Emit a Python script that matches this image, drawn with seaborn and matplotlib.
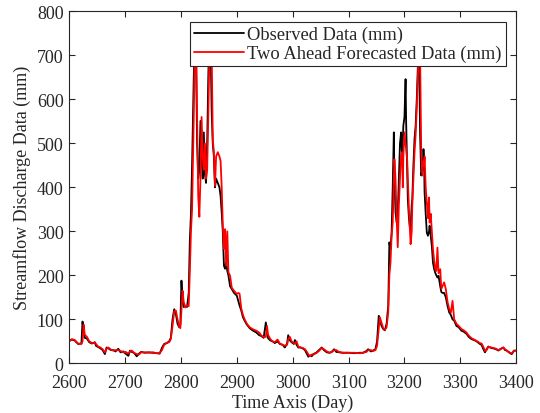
import numpy as np
import pandas as pd
import matplotlib
matplotlib.use("Agg")
import matplotlib.pyplot as plt
import seaborn as sns

# Values (day, observed, two-ahead forecast)
days = [2600, 2605, 2610, 2616, 2622, 2624, 2626, 2628, 2632, 2636, 2641, 2646, 2648, 2652,
        2656, 2660, 2664, 2667, 2670, 2675, 2679, 2683, 2688, 2692, 2697, 2701, 2706, 2709,
        2712, 2716, 2721, 2725, 2729, 2735, 2742, 2750, 2757, 2762, 2766, 2770, 2775, 2779,
        2782, 2785, 2788, 2791, 2794, 2797, 2799, 2801, 2803, 2805, 2808, 2811, 2814, 2816,
        2818, 2820, 2823, 2825, 2827, 2829, 2831, 2833, 2835, 2837, 2839, 2841, 2843, 2845,
        2847, 2849, 2851, 2853, 2855, 2857, 2859, 2861, 2863, 2866, 2869, 2871, 2873, 2875,
        2877, 2879, 2881, 2883, 2885, 2888, 2891, 2895, 2900, 2903, 2905, 2908, 2911, 2914,
        2918, 2923, 2928, 2935, 2940, 2944, 2948, 2952, 2954, 2956, 2960, 2964, 2968, 2973,
        2977, 2982, 2986, 2990, 2992, 2995, 2998, 3002, 3004, 3007, 3010, 3014, 3018, 3022,
        3026, 3028, 3031, 3034, 3037, 3042, 3047, 3052, 3056, 3061, 3066, 3070, 3074, 3078,
        3084, 3090, 3100, 3110, 3120, 3126, 3132, 3135, 3140, 3144, 3148, 3151, 3154, 3156,
        3159, 3162, 3165, 3168, 3171, 3173, 3175, 3177, 3179, 3181, 3182, 3184, 3186, 3188,
        3190, 3192, 3194, 3196, 3197, 3198, 3200, 3202, 3203, 3205, 3206, 3208, 3210, 3211,
        3213, 3214, 3216, 3218, 3220, 3222, 3224, 3226, 3228, 3230, 3232, 3234, 3235, 3236,
        3238, 3240, 3242, 3244, 3245, 3247, 3249, 3251, 3253, 3255, 3257, 3259, 3261, 3264,
        3266, 3268, 3271, 3274, 3277, 3280, 3283, 3286, 3289, 3293, 3297, 3302, 3306, 3311,
        3315, 3320, 3326, 3329, 3335, 3338, 3342, 3344, 3347, 3350, 3355, 3359, 3364, 3368,
        3372, 3377, 3380, 3383, 3389, 3392, 3396, 3400]

observed = [51, 54, 52, 44, 45, 95, 70, 58, 56, 48, 45, 48, 40, 37,
            34, 30, 21, 36, 34, 30, 30, 27, 33, 25, 27, 22, 17, 29,
            26, 24, 16, 22, 26, 24, 25, 24, 23, 22, 35, 44, 46, 50,
            58, 100, 123, 112, 90, 82, 88, 188, 140, 128, 130, 128, 160, 280,
            340, 450, 650, 750, 700, 500, 420, 440, 551, 470, 420, 525, 430, 410,
            500, 650, 760, 740, 574, 500, 470, 400, 420, 410, 400, 380, 343, 298,
            222, 215, 230, 210, 200, 175, 169, 160, 154, 140, 131, 120, 105, 97,
            88, 80, 75, 70, 64, 62, 58, 93, 70, 57, 52, 50, 46, 50,
            44, 42, 36, 45, 64, 52, 48, 44, 53, 42, 36, 36, 34, 30,
            20, 15, 18, 16, 21, 24, 30, 36, 30, 25, 24, 26, 32, 26,
            25, 24, 24, 23, 24, 24, 28, 32, 27, 29, 32, 50, 108, 100,
            85, 78, 75, 90, 131, 275, 260, 297, 400, 525, 430, 343, 320, 340,
            420, 500, 525, 464, 500, 540, 560, 646, 550, 430, 373, 330, 305, 310,
            360, 373, 450, 510, 540, 600, 676, 720, 520, 427, 440, 487, 470, 389,
            340, 297, 290, 300, 313, 290, 267, 229, 215, 206, 200, 195, 199, 175,
            162, 160, 160, 150, 131, 116, 110, 100, 97, 85, 82, 74, 72, 67,
            60, 55, 52, 50, 44, 42, 30, 25, 32, 38, 35, 34, 32, 29,
            33, 36, 30, 29, 23, 21, 29, 29]

forecast = [50, 55, 53, 45, 44, 50, 88, 65, 60, 50, 46, 47, 44, 38,
            36, 32, 25, 33, 36, 31, 29, 30, 30, 28, 25, 26, 22, 27,
            29, 24, 21, 20, 25, 25, 24, 25, 23, 23, 30, 42, 47, 48,
            55, 85, 118, 120, 100, 84, 80, 120, 165, 140, 127, 132, 130, 210,
            300, 350, 560, 720, 760, 560, 380, 333, 420, 560, 470, 440, 500, 420,
            440, 560, 700, 765, 720, 510, 480, 403, 470, 480, 470, 460, 400, 313,
            260, 305, 222, 300, 207, 199, 172, 165, 158, 160, 158, 125, 110, 100,
            90, 82, 78, 74, 70, 63, 60, 60, 85, 65, 55, 50, 48, 54,
            45, 42, 40, 42, 55, 60, 50, 46, 45, 50, 38, 36, 35, 32,
            25, 20, 16, 20, 20, 23, 28, 35, 32, 27, 24, 26, 30, 30,
            25, 24, 24, 24, 23, 24, 26, 30, 30, 28, 30, 40, 80, 105,
            92, 80, 76, 82, 116, 200, 229, 290, 320, 420, 464, 420, 330, 264,
            360, 420, 472, 480, 400, 470, 525, 500, 487, 460, 420, 350, 300, 271,
            300, 360, 420, 480, 520, 580, 650, 750, 700, 480, 427, 460, 450, 470,
            400, 365, 330, 377, 320, 340, 300, 260, 235, 215, 210, 263, 205, 214,
            169, 175, 184, 169, 140, 124, 115, 142, 100, 90, 85, 78, 75, 70,
            63, 57, 53, 51, 46, 45, 35, 28, 30, 38, 36, 35, 33, 30,
            32, 36, 32, 29, 24, 23, 28, 29]

x_ticks = [2600, 2700, 2800, 2900, 3000, 3100, 3200, 3300, 3400]
y_ticks = [0, 100, 200, 300, 400, 500, 600, 700, 800]

sns.set_style("ticks")
plt.rcParams['font.family'] = ['Liberation Serif', 'DejaVu Serif']

fig = plt.figure(figsize=(5.4, 4.14), dpi=100)
ax = fig.add_axes([0.128, 0.12, 0.828, 0.85])

df = pd.DataFrame({'day': days, 'obs': observed, 'fc': forecast})
sns.lineplot(data=df, x='day', y='obs', color='black', linewidth=1.3,
             label='Observed Data (mm)', ax=ax)
sns.lineplot(data=df, x='day', y='fc', color='red', linewidth=1.3,
             label='Two Ahead Forecasted Data (mm)', ax=ax)

ax.set_xlim(2600, 3400)
ax.set_ylim(0, 800)
ax.set_xticks(x_ticks)
ax.set_yticks(y_ticks)
ax.tick_params(direction='in', top=True, right=True, length=4, width=0.8,
               labelsize=13, colors='#262626')
ax.tick_params(axis='x', pad=7.5)
ax.tick_params(axis='y', pad=4)
for s in ax.spines.values():
    s.set_visible(True)
    s.set_linewidth(0.8)
    s.set_color('#262626')

ax.set_xlabel('Time Axis (Day)', fontsize=13, color='#262626', labelpad=2)
ax.set_ylabel('Streamflow Discharge Data (mm)', fontsize=13, color='#262626', labelpad=4)

leg = ax.legend(loc='upper right', fontsize=13.3, frameon=True, fancybox=False,
                edgecolor='#262626', framealpha=1, borderaxespad=0.58,
                handlelength=2.7, handletextpad=0.2, labelspacing=0.1,
                borderpad=0.2)
leg.get_frame().set_linewidth(0.8)

fig.savefig('out.png', dpi=100)
